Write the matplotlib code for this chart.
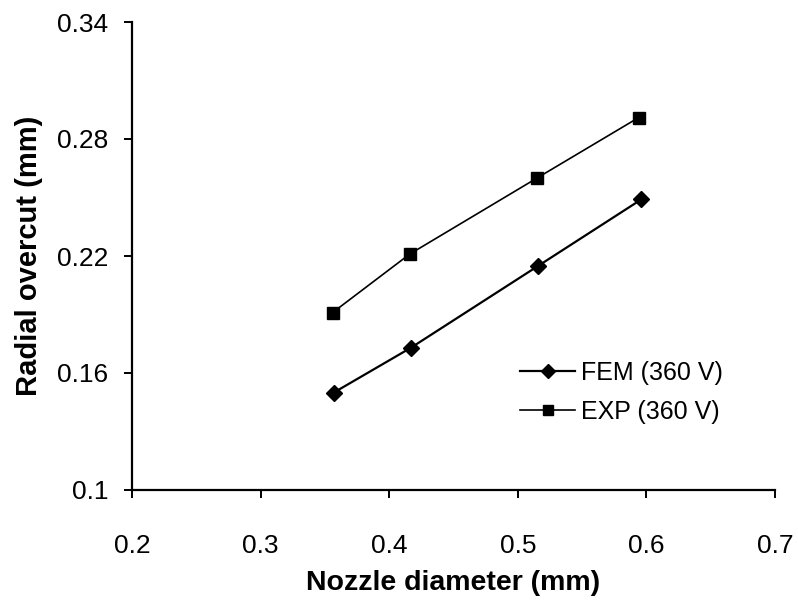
import matplotlib
matplotlib.use("Agg")
import matplotlib.pyplot as plt

plt.rcParams['font.family'] = ['Liberation Sans', 'DejaVu Sans']

x_fem = [0.357, 0.417, 0.516, 0.596]
y_fem = [0.150, 0.173, 0.215, 0.249]
x_exp = [0.356, 0.416, 0.515, 0.594]
y_exp = [0.191, 0.221, 0.260, 0.291]
x_ticks = [0.2, 0.3, 0.4, 0.5, 0.6, 0.7]
y_ticks = [0.1, 0.16, 0.22, 0.28, 0.34]
x_tick_labels = ['0.2', '0.3', '0.4', '0.5', '0.6', '0.7']
y_tick_labels = ['0.1', '0.16', '0.22', '0.28', '0.34']

fig = plt.figure(figsize=(7.98, 6.07), dpi=100)
ax = fig.add_axes([132/798, 1-490/607, (775-132)/798, (490-22)/607])

ax.plot(x_fem, y_fem, color='black', lw=1.6, marker='D', markersize=8, label='FEM (360 V)')
ax.plot(x_exp, y_exp, color='black', lw=1.2, marker='s', markersize=8, label='EXP (360 V)')

ax.set_xlim(0.2, 0.7)
ax.set_ylim(0.1, 0.34)
ax.set_xticks(x_ticks)
ax.set_xticklabels(x_tick_labels)
ax.set_yticks(y_ticks)
ax.set_yticklabels(y_tick_labels)
ax.tick_params(direction='out', length=6, width=1.4, labelsize=19)
ax.tick_params(axis='y', pad=11)
ax.tick_params(axis='x', pad=26)
for s in ['top', 'right']:
    ax.spines[s].set_visible(False)
for s in ['left', 'bottom']:
    ax.spines[s].set_linewidth(1.6)

ax.set_xlabel('Nozzle diameter (mm)', fontsize=20.5, fontweight='bold', labelpad=8)
ax.set_ylabel('Radial overcut (mm)', fontsize=21, fontweight='bold', labelpad=10)

ax.legend(loc='upper left', bbox_to_anchor=(0.588, 0.297), frameon=False, fontsize=18,
          handlelength=2.2, handletextpad=0.25, labelspacing=0.6, markerscale=0.9,
          borderaxespad=0.0)

fig.savefig('out.png', dpi=100)
